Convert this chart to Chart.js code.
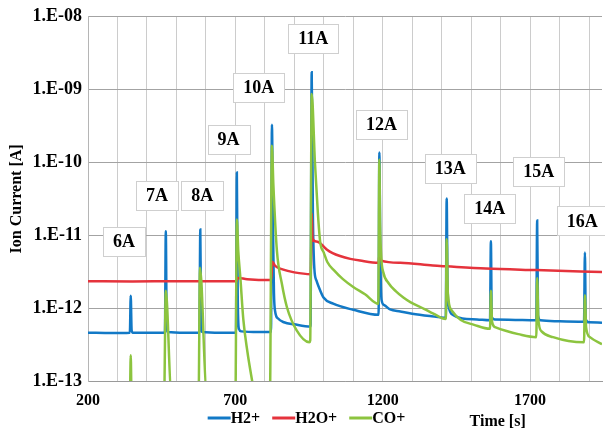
<!DOCTYPE html>
<html><head><meta charset="utf-8">
<script src="https://cdn.jsdelivr.net/npm/chart.js@4.4.0/dist/chart.umd.min.js"></script>
<style>html,body{margin:0;padding:0;background:#fff;}canvas{display:block;}</style>
</head><body>
<canvas id="c" width="605" height="435"></canvas>
<script>
// ---- data (time [s], ion current [A]) ----
const seriesNames = ['H2+', 'H2O+', 'CO+'];
const h2Points = [[200,4.6e-13],[280,4.55e-13],[342,4.6e-13],[345,1.48e-12],[348,5e-13],[352,4.6e-13],[420,4.6e-13],[461,4.6e-13],[464,1.14e-11],[467,6e-13],[471,4.7e-13],[530,4.6e-13],[578,4.6e-13],[581,1.2e-11],[584,6e-13],[588,4.7e-13],[650,4.6e-13],[702,4.6e-13],[705,7.3e-11],[708,1.5e-12],[712,5.2e-13],[720,4.8e-13],[780,4.7e-13],[821,4.7e-13],[824,3.3e-10],[828,1e-11],[831,1.6e-12],[835,9e-13],[845,7.2e-13],[865,6.4e-13],[900,6.0e-13],[955,5.6e-13],[959,1.73e-9],[963,2e-11],[968,3.5e-12],[975,2.4e-12],[982,2.0e-12],[999,1.4e-12],[1032,1.15e-12],[1100,9.5e-13],[1186,8.1e-13],[1188.5,1.37e-10],[1192,5e-12],[1196,1.3e-12],[1205,1.1e-12],[1225,9.6e-13],[1260,9e-13],[1300,8.4e-13],[1360,7.8e-13],[1414,7.4e-13],[1417,3.2e-11],[1420,2e-12],[1425,1e-12],[1440,8e-13],[1470,7.2e-13],[1520,7.0e-13],[1564,6.8e-13],[1567,8.3e-12],[1570,7.5e-13],[1580,7e-13],[1650,6.9e-13],[1721,6.8e-13],[1724,1.6e-11],[1727,8e-13],[1735,6.8e-13],[1800,6.6e-13],[1883,6.5e-13],[1886,5.8e-12],[1889,7e-13],[1900,6.4e-13],[1944,6.3e-13]];
const h2oPoints = [[200,2.34e-12],[350,2.33e-12],[500,2.35e-12],[704,2.34e-12],[707,2.6e-12],[740,2.5e-12],[822,2.43e-12],[825,4.35e-12],[835,3.8e-12],[860,3.4e-12],[900,3.1e-12],[956,2.93e-12],[959,2.03e-11],[962,9e-12],[975,8.2e-12],[988,7.8e-12],[1000,7.0e-12],[1010,6.4e-12],[1030,5.7e-12],[1055,5.2e-12],[1090,4.75e-12],[1123,4.5e-12],[1186,4.2e-12],[1189,5.5e-12],[1195,4.5e-12],[1260,4.2e-12],[1370,3.85e-12],[1417,3.75e-12],[1550,3.5e-12],[1720,3.33e-12],[1944,3.13e-12]];
const coPoints = [[200,5e-14],[342,5e-14],[345,2.26e-13],[348,5e-14],[458,5e-14],[464,1.74e-12],[483,6e-14],[575,5e-14],[580,3.6e-12],[603,6e-14],[700,5e-14],[705,1.65e-11],[710,6e-12],[717,2.6e-12],[727,7e-13],[741,2.5e-13],[757,1e-13],[770,5e-14],[817,5e-14],[824,1.7e-10],[829,4.9e-11],[841,6.1e-12],[858,2.14e-12],[875,1.03e-12],[908,4.95e-13],[951,3.4e-13],[954,3.6e-13],[959,8.7e-10],[970,1e-10],[980,2e-11],[988,8e-12],[1000,5.8e-12],[1012,4.3e-12],[1035,3.3e-12],[1065,2.5e-12],[1100,1.95e-12],[1140,1.55e-12],[1185,1.15e-12],[1188.5,1.1e-10],[1191,1.5e-11],[1195,5e-12],[1202,3.1e-12],[1220,2.2e-12],[1245,1.7e-12],[1270,1.4e-12],[1295,1.2e-12],[1340,9.8e-13],[1372,8.4e-13],[1414,7.1e-13],[1417,8.8e-12],[1421,1.6e-12],[1434,9.3e-13],[1465,6.9e-13],[1510,5.9e-13],[1564,5.2e-13],[1567,1.74e-12],[1571,6.5e-13],[1581,5.5e-13],[1620,4.85e-13],[1660,4.4e-13],[1721,4.0e-13],[1724,2.6e-12],[1728,7e-13],[1739,4.8e-13],[1778,4.0e-13],[1883,3.4e-13],[1886,1.5e-12],[1890,5.5e-13],[1903,4.0e-13],[1944,3.2e-13]];

const yTickExponents = [-13, -12, -11, -10, -9, -8];
const xLabeledTicks = [200, 700, 1200, 1700];
const peakLabels = ['6A','7A','8A','9A','10A','11A','12A','13A','14A','15A','16A'];
const peakLabelTime = [322, 434, 588, 677, 779, 964, 1196, 1429, 1563, 1729, 1877];
const peakLabelLevel = [8.3e-12, 3.55e-11, 3.55e-11, 2.06e-10, 1.07e-9, 5.09e-9, 3.36e-10, 8.18e-11, 2.33e-11, 7.5e-11, 1.58e-11];

// ---- rendering ----
const FONT = '"Liberation Serif", "Times New Roman", serif';
const colors = ['#1279c6', '#e5333c', '#8cc43f'];
const toXY = pts => pts.map(p => ({x: p[0], y: p[1]}));
const allSeries = [h2Points, h2oPoints, coPoints];

const overlay = {
  id: 'overlay',
  afterDatasetsDraw(chart) {
    const {ctx, scales: {x, y}} = chart;
    ctx.save();
    ctx.font = 'bold 18px ' + FONT;
    ctx.textAlign = 'center';
    ctx.textBaseline = 'middle';
    peakLabels.forEach((t, i) => {
      const cx = x.getPixelForValue(peakLabelTime[i]);
      const cy = y.getPixelForValue(peakLabelLevel[i]);
      const w = Math.round(ctx.measureText(t).width + 20), h = 29;
      const bx = Math.round(cx - w / 2), by = Math.round(cy - h / 2);
      ctx.fillStyle = '#fff';
      ctx.fillRect(bx, by, w, h);
      ctx.strokeStyle = '#cfcfcf';
      ctx.lineWidth = 1;
      ctx.strokeRect(bx + 0.5, by + 0.5, w, h);
      ctx.fillStyle = '#000';
      ctx.fillText(t, cx, cy + 1);
    });
    ctx.restore();
  },
  afterDraw(chart) {
    const {ctx, chartArea} = chart;
    ctx.save();
    ctx.font = 'bold 16px ' + FONT;
    ctx.textBaseline = 'middle';
    ctx.textAlign = 'left';
    const items = chart.data.datasets.map(ds => ({label: ds.label, color: ds.borderColor}));
    const lineLen = 23, gap = 12;
    const widths = items.map(it => lineLen + ctx.measureText(it.label).width);
    const total = widths.reduce((a, b) => a + b, 0) + gap * (items.length - 1);
    let lx = chart.width / 2 + 4 - total / 2;
    const ly = chart.height - 17;
    items.forEach((it, i) => {
      ctx.strokeStyle = it.color;
      ctx.lineWidth = 3;
      ctx.beginPath();
      ctx.moveTo(lx, ly);
      ctx.lineTo(lx + lineLen, ly);
      ctx.stroke();
      ctx.fillStyle = '#000';
      ctx.fillText(it.label, lx + lineLen, ly + 1);
      lx += widths[i] + gap;
    });
    ctx.textAlign = 'center';
    ctx.fillText('Time [s]', chartArea.left + 0.797 * (chartArea.right - chartArea.left), chart.height - 13);
    ctx.restore();
  }
};

new Chart(document.getElementById('c'), {
  type: 'line',
  data: {
    datasets: seriesNames.map((name, i) => ({
      label: name,
      data: toXY(allSeries[i]),
      borderColor: colors[i],
      backgroundColor: colors[i],
      borderWidth: 2.5,
      pointRadius: 0,
      cubicInterpolationMode: 'monotone',
      fill: false,
      clip: 0,
      order: 3 - i
    }))
  },
  options: {
    responsive: false,
    animation: false,
    devicePixelRatio: 1,
    layout: {padding: {top: 14, right: 3, bottom: 24, left: 0}},
    plugins: {legend: {display: false}, tooltip: {enabled: false}},
    scales: {
      x: {
        type: 'linear',
        min: 200,
        max: 1944,
        afterFit: s => { s.height = 30; },
        ticks: {
          stepSize: 100,
          includeBounds: false,
          autoSkip: false,
          maxRotation: 0,
          padding: 10,
          color: '#000',
          font: {family: FONT, size: 16, weight: 'bold'},
          callback: v => xLabeledTicks.includes(v) ? String(v) : ''
        },
        grid: {color: '#cccccc', drawTicks: false, lineWidth: 1},
        border: {display: true, color: '#9a9a9a'}
      },
      y: {
        type: 'logarithmic',
        min: 1e-13,
        max: 1e-8,
        afterFit: s => { s.width = 88; },
        afterBuildTicks: s => { s.ticks = yTickExponents.map(e => ({value: Math.pow(10, e)})); },
        ticks: {
          padding: 6,
          color: '#000',
          font: {family: FONT, size: 18, weight: 'bold'},
          callback: v => {
            const e = Math.round(Math.log10(v));
            return '1.E' + (e < 0 ? '-' : '+') + String(Math.abs(e)).padStart(2, '0');
          }
        },
        grid: {color: '#a3a3a3', drawTicks: false, lineWidth: 1},
        border: {display: true, color: '#b5b5b5'},
        title: {
          display: true,
          text: 'Ion Current [A]',
          color: '#000',
          font: {family: FONT, size: 16, weight: 'bold'},
          padding: {top: 7, bottom: 0}
        }
      }
    }
  },
  plugins: [overlay]
});
</script>
</body></html>
